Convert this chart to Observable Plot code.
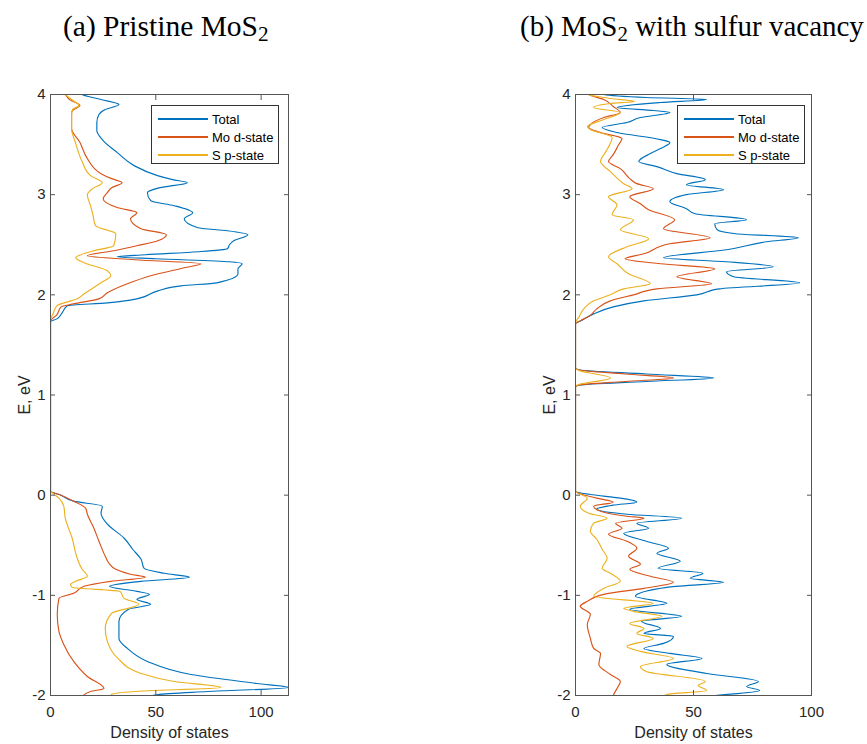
<!DOCTYPE html>
<html>
<head>
<meta charset="utf-8">
<script src="https://cdn.jsdelivr.net/npm/d3@7"></script>
<script src="https://cdn.jsdelivr.net/npm/@observablehq/plot@0.6"></script>
<style>
  html, body { margin: 0; padding: 0; background: #fff; }
  #root { position: relative; width: 867px; height: 744px; overflow: hidden; }
  .title { position: absolute; top: 10px; font-family: "Liberation Serif", "Times New Roman", serif; font-size: 29px; color: #000; white-space: nowrap; }
  .title sub { font-size: 0.72em; vertical-align: -0.22em; line-height: 0; }
  .panel { position: absolute; top: 80px; }
  .legend { position: absolute; background: #fff; border: 1px solid #333; font-family: "Liberation Sans", Arial, sans-serif; font-size: 13px; color: #000; box-sizing: border-box; }
  .legend .row { position: absolute; left: 0; height: 18px; display: flex; align-items: center; }
  .legend .sw { display: inline-block; width: 50px; height: 1.3px; margin-left: 6px; margin-right: 4px; }
</style>
</head>
<body>
<div id="root"></div>
<script>
// ---------- data (E in eV, density of states) ----------
const energyTicks = [-2, -1, 0, 1, 2, 3, 4];
const dosTicks = [0, 50, 100];
const seriesNames = ["Total", "Mo d-state", "S p-state"];
const seriesColors = ["#0072BD", "#D95319", "#EDB120"];
const panelTitles = ["(a) Pristine MoS<sub>2</sub>", "(b) MoS<sub>2</sub> with sulfur vacancy"];
const xMaxPristine = 113;
const xMaxVacancy = 100;

// Pristine MoS2: [E, DOS]
const pristineTotal = [
  [4.02, 14], [4.0, 15], [3.95, 24], [3.90, 32.5], [3.85, 26], [3.80, 23], [3.72, 22], [3.64, 22],
  [3.54, 25], [3.42, 31.7], [3.29, 39.7], [3.19, 50.8], [3.15, 58], [3.12, 65], [3.07, 52], [3.02, 46],
  [2.94, 47.6], [2.89, 58.7], [2.82, 67.5], [2.76, 63.5], [2.67, 70], [2.64, 84], [2.60, 93.7],
  [2.54, 87], [2.50, 85], [2.46, 84], [2.43, 70], [2.40, 45], [2.38, 31.7], [2.36, 50], [2.33, 85],
  [2.31, 91], [2.26, 89], [2.21, 89], [2.12, 79], [2.09, 62], [2.04, 51], [1.96, 41], [1.92, 27],
  [1.89, 8], [1.82, 5.5], [1.76, 3], [1.73, 0],
  [0.04, 0], [0.0, 5], [-0.06, 11], [-0.11, 24.6], [-0.18, 24], [-0.29, 27], [-0.43, 35], [-0.54, 39],
  [-0.64, 43], [-0.73, 44.4], [-0.78, 54], [-0.82, 66], [-0.86, 43], [-0.91, 28], [-0.96, 41],
  [-0.99, 47], [-1.04, 41], [-1.09, 47.6], [-1.14, 37], [-1.26, 32.5], [-1.43, 32.5], [-1.53, 36.5],
  [-1.66, 46], [-1.79, 66.7], [-1.88, 98], [-1.92, 113], [-1.96, 74.6], [-1.99, 51], [-2.03, 44.4]
];
const pristineMo = [
  [4.02, 6], [4.0, 7], [3.95, 9], [3.89, 14], [3.85, 11], [3.82, 10], [3.66, 10], [3.52, 14],
  [3.36, 17.5], [3.21, 24], [3.16, 29], [3.12, 34], [3.07, 29], [3.02, 27], [2.96, 25], [2.87, 32],
  [2.82, 41], [2.76, 38], [2.66, 43], [2.60, 55], [2.54, 51], [2.49, 41], [2.44, 30], [2.39, 17.5],
  [2.35, 40], [2.31, 71.4], [2.27, 63.5], [2.19, 47.6], [2.11, 36.5], [2.02, 27], [1.96, 23],
  [1.91, 11], [1.88, 5], [1.80, 3], [1.74, 0],
  [0.04, 0], [0.0, 5], [-0.06, 11], [-0.13, 16.7], [-0.19, 17.5], [-0.33, 20.6], [-0.46, 23],
  [-0.61, 26], [-0.68, 27.8], [-0.74, 31], [-0.79, 38], [-0.82, 45], [-0.86, 28.6], [-0.91, 15.9],
  [-0.98, 11], [-1.03, 4], [-1.19, 3.2], [-1.36, 4], [-1.49, 6.3], [-1.66, 11], [-1.81, 17.5],
  [-1.93, 25.4], [-1.96, 19], [-2.01, 15], [-2.03, 14]
];
const pristineS = [
  [4.02, 6], [4.0, 7], [3.95, 10], [3.89, 13.5], [3.85, 10.5], [3.80, 10], [3.66, 10], [3.51, 12],
  [3.33, 15], [3.19, 19], [3.12, 24.6], [3.06, 20], [3.0, 17.5], [2.89, 19], [2.81, 20], [2.69, 21.4],
  [2.61, 31], [2.49, 30], [2.44, 20.6], [2.37, 12], [2.32, 16], [2.24, 27], [2.19, 28.6], [2.12, 24],
  [2.01, 16], [1.96, 12.7], [1.89, 3], [1.80, 1], [1.76, 0],
  [0.04, 0], [0.02, 1], [-0.03, 4], [-0.11, 6.3], [-0.23, 7], [-0.43, 10.3], [-0.63, 12.7],
  [-0.74, 15], [-0.81, 17.5], [-0.86, 12], [-0.89, 9.5], [-0.92, 10.3], [-0.96, 33], [-1.03, 35],
  [-1.09, 42], [-1.18, 29], [-1.33, 26], [-1.46, 27], [-1.63, 32], [-1.78, 43], [-1.86, 58.7],
  [-1.92, 81], [-1.96, 39.7], [-1.99, 29], [-2.03, 28]
];

// MoS2 with sulfur vacancy: [E, DOS]
const vacancyTotal = [
  [4.02, 10], [4.0, 12], [3.97, 30], [3.95, 55.6], [3.92, 36], [3.87, 17.6], [3.84, 33], [3.82, 40],
  [3.77, 27.5], [3.72, 21.8], [3.67, 11.3], [3.62, 17.6], [3.55, 36], [3.52, 40], [3.46, 36],
  [3.41, 31.7], [3.33, 26.8], [3.28, 34.5], [3.21, 43], [3.15, 55], [3.10, 47], [3.05, 62.7],
  [3.0, 47], [2.93, 40], [2.86, 47], [2.81, 50.7], [2.75, 72.5], [2.71, 59], [2.65, 60], [2.61, 68],
  [2.57, 94.4], [2.53, 81], [2.45, 64], [2.37, 37.3], [2.33, 64], [2.28, 83.8], [2.23, 64],
  [2.18, 67], [2.12, 95], [2.06, 61], [2.0, 51.4], [1.94, 29], [1.88, 16], [1.81, 7.7], [1.75, 3],
  [1.71, 0],
  [1.27, 0], [1.25, 2], [1.21, 30], [1.17, 58.6], [1.135, 30], [1.10, 2], [1.08, 0],
  [0.04, 0], [-0.01, 12], [-0.04, 21.8], [-0.07, 26], [-0.10, 16], [-0.14, 9], [-0.19, 21.8],
  [-0.23, 45], [-0.28, 26], [-0.33, 31], [-0.38, 20.4], [-0.46, 30], [-0.53, 39.4], [-0.58, 34.5],
  [-0.66, 44.4], [-0.73, 35], [-0.78, 54], [-0.83, 48.6], [-0.87, 62.7], [-0.92, 38.7],
  [-1.01, 25.4], [-1.08, 38.7], [-1.14, 23], [-1.21, 45], [-1.26, 28], [-1.33, 36], [-1.38, 29],
  [-1.41, 41.5], [-1.48, 37.3], [-1.53, 29], [-1.58, 40], [-1.63, 53.5], [-1.69, 38.7],
  [-1.78, 55.6], [-1.86, 77.5], [-1.91, 72.5], [-1.95, 78], [-2.01, 55.6], [-2.03, 50]
];
const vacancyMo = [
  [4.02, 5], [4.0, 5.6], [3.95, 12], [3.88, 16], [3.82, 19], [3.77, 12], [3.70, 6.3], [3.67, 5.6],
  [3.62, 10.6], [3.56, 19.7], [3.50, 18.3], [3.40, 16], [3.33, 14], [3.26, 19], [3.16, 23],
  [3.11, 26], [3.06, 33], [2.98, 23], [2.91, 27.5], [2.85, 31], [2.75, 42], [2.66, 37.3],
  [2.57, 57], [2.51, 40], [2.41, 29], [2.36, 21], [2.31, 36], [2.26, 59], [2.18, 43], [2.11, 57.7],
  [2.06, 34.5], [2.0, 24.6], [1.94, 14.8], [1.86, 9], [1.79, 6], [1.74, 2], [1.71, 0],
  [1.27, 0], [1.25, 1.5], [1.21, 21], [1.17, 41.6], [1.135, 21], [1.10, 1.5], [1.08, 0],
  [0.04, 0], [-0.03, 9], [-0.07, 16], [-0.11, 7.7], [-0.16, 10.6], [-0.21, 21.8], [-0.23, 29],
  [-0.28, 17], [-0.33, 19.7], [-0.39, 14], [-0.46, 21.8], [-0.53, 26], [-0.61, 22.5], [-0.69, 27.5],
  [-0.74, 23], [-0.81, 31.7], [-0.87, 41.5], [-0.93, 29], [-0.99, 12], [-1.06, 5], [-1.11, 2],
  [-1.19, 6.3], [-1.29, 5], [-1.43, 6.3], [-1.53, 7.7], [-1.58, 10.6], [-1.69, 9.9], [-1.79, 14.8],
  [-1.86, 19], [-1.93, 17.6], [-2.01, 16], [-2.03, 16]
];
const vacancyS = [
  [4.02, 5], [4.0, 5.6], [3.96, 15], [3.93, 25], [3.91, 14.8], [3.87, 7.7], [3.82, 19], [3.75, 12],
  [3.68, 5], [3.65, 6.3], [3.57, 15.5], [3.45, 13.4], [3.33, 10.6], [3.23, 14.8], [3.11, 20.4],
  [3.06, 24], [2.98, 14], [2.90, 17.6], [2.80, 15.5], [2.75, 24.6], [2.65, 19], [2.56, 31],
  [2.48, 21.8], [2.38, 14], [2.31, 17.6], [2.21, 22.5], [2.11, 31.7], [2.06, 20.4], [2.0, 14.8],
  [1.94, 7.7], [1.86, 3.5], [1.78, 1.5], [1.72, 0],
  [1.265, 0], [1.245, 1.5], [1.17, 14.8], [1.105, 1.5], [1.09, 0],
  [0.04, 0], [-0.03, 5], [-0.11, 2], [-0.18, 5.6], [-0.23, 13.4], [-0.28, 7.7], [-0.36, 6.3],
  [-0.44, 9], [-0.54, 11.3], [-0.63, 13.4], [-0.73, 11.3], [-0.78, 14.8], [-0.86, 19], [-0.93, 12],
  [-1.01, 7.7], [-1.08, 33], [-1.13, 20.4], [-1.16, 24.6], [-1.21, 36.6], [-1.28, 23], [-1.33, 29],
  [-1.38, 26], [-1.43, 33], [-1.51, 21.8], [-1.56, 27.5], [-1.63, 41.5], [-1.71, 27.5], [-1.76, 30],
  [-1.86, 55], [-1.90, 52], [-1.95, 55.6], [-1.99, 38.7], [-2.03, 36]
];

// ---------- drawing ----------
const root = document.getElementById("root");
const fontSans = "'Liberation Sans', Arial, sans-serif";

function toRows(arr) {
  return arr.map(([E, dos]) => ({E, dos})).sort((a, b) => a.E - b.E);
}

function makePanel(curves, xMax, opts) {
  const W = 300, H = 664;
  const fmt = d => String(d);
  const lines = curves.map((c, i) =>
    Plot.line(toRows(c), {x: "dos", y: "E", stroke: seriesColors[i], strokeWidth: 1.15, curve: "monotone-y", clip: true})
  );
  return Plot.plot({
    width: W, height: H,
    marginLeft: 50, marginRight: opts.marginRight, marginTop: 14, marginBottom: 49,
    style: {fontFamily: fontSans, fontSize: "15px", color: "#262626", background: "transparent", overflow: "visible"},
    x: {domain: [0, xMax]},
    y: {domain: [-2, 4]},
    marks: [
      ...lines,
      Plot.frame({stroke: "#555", strokeWidth: 1}),
      Plot.axisX({anchor: "bottom", ticks: dosTicks, tickSize: -5, tickPadding: 16, tickFormat: fmt,
        stroke: "#555", fontSize: 15, label: null}),
      Plot.axisX({anchor: "bottom", ticks: [], label: "Density of states", labelAnchor: "center",
        labelArrow: "none", labelOffset: 42, fontSize: 16}),
      Plot.axisX({anchor: "top", ticks: dosTicks, tickSize: -5, tickFormat: () => "", stroke: "#555", label: null}),
      Plot.axisY({anchor: "left", ticks: energyTicks, tickSize: -5, tickPadding: 10, tickFormat: fmt,
        stroke: "#555", fontSize: 15, label: null}),
      Plot.axisY({anchor: "left", ticks: [], label: "E, eV", labelAnchor: "center",
        labelArrow: "none", labelOffset: 32, fontSize: 16}),
      Plot.axisY({anchor: "right", ticks: energyTicks, tickSize: -5, tickFormat: () => "", stroke: "#555", label: null})
    ]
  });
}

function addLegend(left, top) {
  const lg = document.createElement("div");
  lg.className = "legend";
  Object.assign(lg.style, {left: left + "px", top: top + "px", width: "128px", height: "59px"});
  seriesNames.forEach((name, i) => {
    const row = document.createElement("div");
    row.className = "row";
    row.style.top = (4 + i * 18) + "px";
    const sw = document.createElement("span");
    sw.className = "sw";
    sw.style.background = seriesColors[i];
    const tx = document.createElement("span");
    tx.textContent = name;
    row.appendChild(sw); row.appendChild(tx);
    lg.appendChild(row);
  });
  root.appendChild(lg);
}

function addTitle(html, left, size) {
  const t = document.createElement("div");
  t.className = "title";
  t.innerHTML = html;
  t.style.left = left + "px";
  t.style.fontSize = size + "px";
  root.appendChild(t);
}

const p1 = makePanel([pristineTotal, pristineMo, pristineS], xMaxPristine, {marginRight: 12});
const w1 = document.createElement("div"); w1.className = "panel"; w1.style.left = "0px"; w1.appendChild(p1); root.appendChild(w1);
const p2 = makePanel([vacancyTotal, vacancyMo, vacancyS], xMaxVacancy, {marginRight: 14});
const w2 = document.createElement("div"); w2.className = "panel"; w2.style.left = "525px"; w2.appendChild(p2); root.appendChild(w2);

addTitle(panelTitles[0], 63, 29.5);
addTitle(panelTitles[1], 520, 29);
addLegend(151, 105);
addLegend(677, 105);
</script>
</body>
</html>
